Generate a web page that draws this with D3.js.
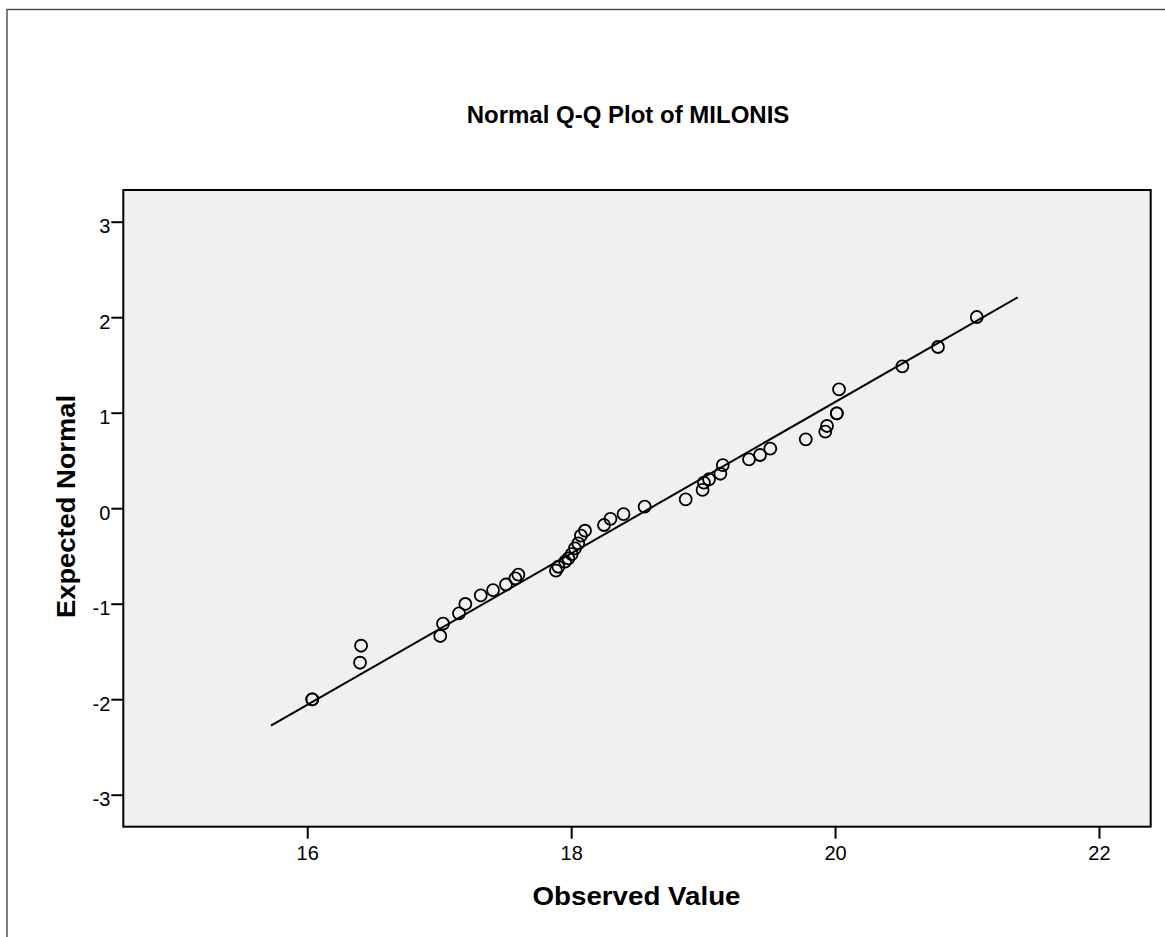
<!DOCTYPE html>
<html><head><meta charset="utf-8">
<script src="https://cdn.jsdelivr.net/npm/d3@7"></script>
<style>html,body{margin:0;padding:0;background:#fff;overflow:hidden}</style>
</head><body>
<script>
const observed = [16.038,16.038,16.400,16.408,17.008,17.029,17.150,17.198,17.315,17.408,17.506,17.577,17.600,
  17.885,17.903,17.954,17.979,18.004,18.029,18.054,18.074,18.105,18.249,18.298,18.397,18.557,18.868,
  18.996,19.006,19.045,19.131,19.149,19.348,19.431,19.509,19.778,19.926,19.939,20.013,20.013,20.030,20.510,20.780,21.074];
const expected = [-2.001,-2.001,-1.618,-1.440,-1.338,-1.209,-1.101,-1.003,-0.912,-0.857,-0.799,-0.734,-0.696,
  -0.654,-0.613,-0.560,-0.525,-0.480,-0.420,-0.368,-0.288,-0.236,-0.176,-0.111,-0.061,0.016,0.093,
  0.191,0.267,0.303,0.361,0.452,0.512,0.557,0.623,0.721,0.801,0.861,0.994,0.994,1.245,1.486,1.688,2.002];
const lineX = [15.725, 21.384];
const lineY = [-2.277, 2.208];
const xTicks = [16, 18, 20, 22];
const yTicks = [-3, -2, -1, 0, 1, 2, 3];

(function () {
const W = 1165, H = 937;
const pL = 123.3, pR = 1150.7, pT = 190, pB = 826.7;
const font = "'Liberation Sans', Arial, Helvetica, sans-serif";

const svg = d3.select("body").append("svg").attr("width", W).attr("height", H);

svg.append("rect").attr("x", 7).attr("y", 9.5).attr("width", 1300).attr("height", 1100)
  .attr("fill", "none").attr("stroke", "#444").attr("stroke-width", 1.4);

const x = d3.scaleLinear().domain([14.606, 22.392]).range([pL, pR]);
const y = d3.scaleLinear().domain([-3.335, 3.332]).range([pB, pT]);

svg.append("rect").attr("x", pL).attr("y", pT).attr("width", pR - pL).attr("height", pB - pT)
  .attr("fill", "#f0f0f0");

const fmt = d => String(d);
const xAxis = svg.append("g").attr("transform", `translate(0,${pB})`)
  .call(d3.axisBottom(x).tickValues(xTicks).tickSize(12).tickPadding(9).tickFormat(fmt));
const yAxis = svg.append("g").attr("transform", `translate(${pL},0)`)
  .call(d3.axisLeft(y).tickValues(yTicks).tickSize(12).tickPadding(1).tickFormat(fmt));
[xAxis, yAxis].forEach(g => {
  g.select(".domain").remove();
  g.selectAll(".tick line").attr("stroke", "#000").attr("stroke-width", 2);
  g.selectAll(".tick text").attr("fill", "#000").style("font-family", font).style("font-size", "20px");
});
xAxis.selectAll(".tick text").attr("dy", null).attr("y", 33);
yAxis.selectAll(".tick text").attr("dy", null).attr("y", 11).attr("x", -13);

svg.append("line")
  .attr("x1", x(lineX[0])).attr("y1", y(lineY[0]))
  .attr("x2", x(lineX[1])).attr("y2", y(lineY[1]))
  .attr("stroke", "#000").attr("stroke-width", 2);

svg.append("g").selectAll("circle").data(observed.map((v, i) => [v, expected[i]]))
  .join("circle")
  .attr("cx", d => x(d[0])).attr("cy", d => y(d[1])).attr("r", 6)
  .attr("fill", "none").attr("stroke", "#000").attr("stroke-width", 1.8);

svg.append("rect").attr("x", pL).attr("y", pT).attr("width", pR - pL).attr("height", pB - pT)
  .attr("fill", "none").attr("stroke", "#000").attr("stroke-width", 2);

svg.append("text").attr("x", 628).attr("y", 123).attr("text-anchor", "middle")
  .style("font-family", font).style("font-size", "24px").style("font-weight", "bold")
  .text("Normal Q-Q Plot of MILONIS");
svg.append("text").attr("x", 636.5).attr("y", 905).attr("text-anchor", "middle")
  .style("font-family", font).style("font-size", "26px").style("font-weight", "bold")
  .attr("textLength", 208).attr("lengthAdjust", "spacingAndGlyphs")
  .text("Observed Value");
svg.append("text").attr("transform", "translate(75,506.5) rotate(-90)").attr("text-anchor", "middle")
  .style("font-family", font).style("font-size", "26px").style("font-weight", "bold")
  .attr("textLength", 223).attr("lengthAdjust", "spacingAndGlyphs")
  .text("Expected Normal");
})();
</script>
</body></html>
